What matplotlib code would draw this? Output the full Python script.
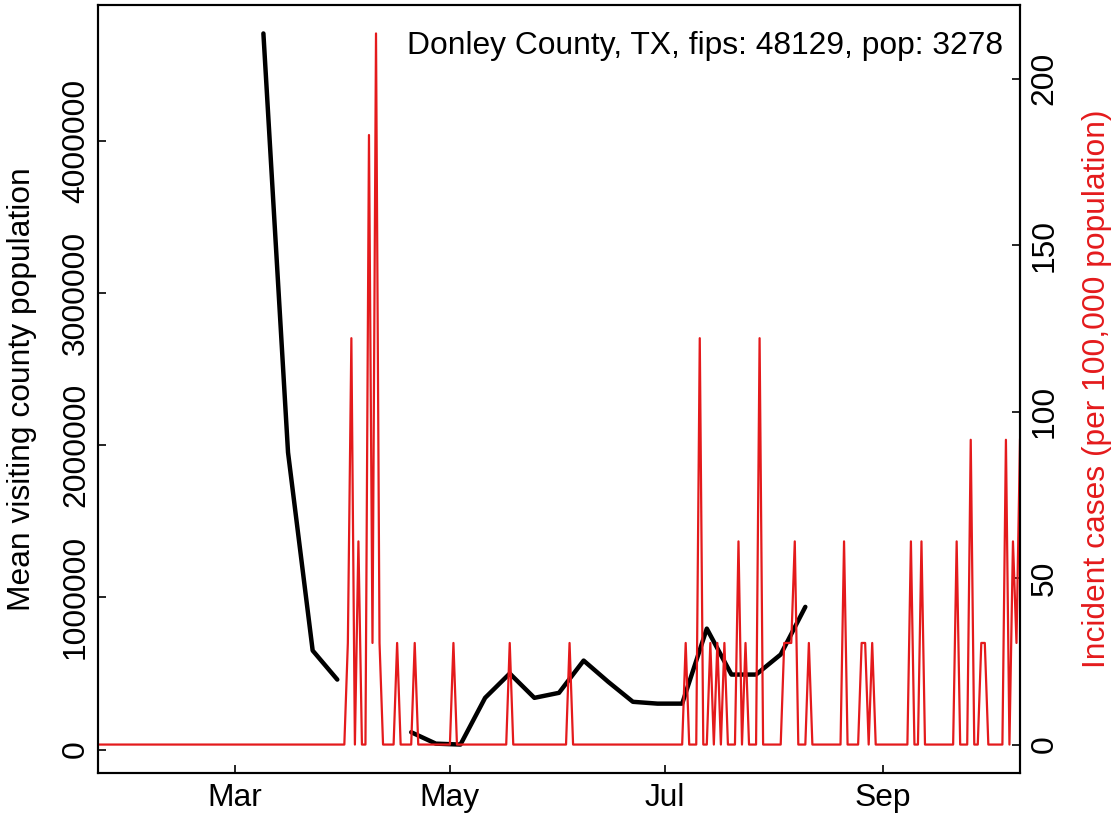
import numpy as np
import pandas as pd
import matplotlib
matplotlib.use("Agg")
import matplotlib.pyplot as plt

plt.rcParams['font.family'] = ['Liberation Sans', 'DejaVu Sans']

# weekly mean visiting county population (black line)
visit_dates = pd.date_range("2020-03-09", "2020-08-10", freq="7D")
visit_vals = [4707000, 1953000, 651000, 460000, np.nan, np.nan, 114000, 39000,
              33000, 340000, 500000, 340000, 373000, 585000, 445000, 314000,
              302000, 302000, 795000, 493000, 493000, 625000, 938000]

# daily incident cases per 100,000 (red line), zero on all other days
case_days = pd.date_range("2020-01-22", "2020-10-10", freq="D")
spike_dates = ["2020-04-02", "2020-04-03", "2020-04-05", "2020-04-08", "2020-04-09",
               "2020-04-10", "2020-04-11", "2020-04-16", "2020-04-21", "2020-05-02",
               "2020-05-18", "2020-06-04", "2020-07-07", "2020-07-11", "2020-07-14",
               "2020-07-16", "2020-07-18", "2020-07-22", "2020-07-24", "2020-07-28",
               "2020-08-04", "2020-08-05", "2020-08-06", "2020-08-07", "2020-08-11",
               "2020-08-21", "2020-08-26", "2020-08-27", "2020-08-29", "2020-09-09",
               "2020-09-12", "2020-09-22", "2020-09-26", "2020-09-29", "2020-09-30",
               "2020-10-06", "2020-10-08", "2020-10-09", "2020-10-10"]
spike_vals = [30.51, 122.03, 61.01, 183.04, 30.51,
              213.54, 30.51, 30.51, 30.51, 30.51,
              30.51, 30.51, 30.51, 122.03, 30.51,
              30.51, 30.51, 61.01, 30.51, 122.03,
              30.51, 30.51, 30.51, 61.01, 30.51,
              61.01, 30.51, 30.51, 30.51, 61.01,
              61.01, 61.01, 91.52, 30.51, 30.51,
              91.52, 61.01, 30.51, 91.52]

month_ticks = pd.to_datetime(["2020-03-01", "2020-05-01", "2020-07-01", "2020-09-01"])
month_labels = ["Mar", "May", "Jul", "Sep"]
left_ticks = [0, 1000000, 2000000, 3000000, 4000000]
right_ticks = [0, 50, 100, 150, 200]
title = "Donley County, TX, fips: 48129, pop: 3278"

cases = pd.Series(0.0, index=case_days)
cases[pd.to_datetime(spike_dates)] = spike_vals

RED = "#E41A1C"
FS = 22.9

fig = plt.figure(figsize=(11.19, 8.22), dpi=100)
ax = fig.add_axes([98 / 1119, 49 / 822, 922 / 1119, 768 / 822])

ax.plot(visit_dates, visit_vals, color="black", lw=3.2, solid_capstyle="round")
lo, hi = np.nanmin(visit_vals), np.nanmax(visit_vals)
ax.set_ylim(lo - 0.04 * (hi - lo), hi + 0.04 * (hi - lo))
ax.set_xlim(case_days[0], case_days[-1])
ax.set_yticks(left_ticks)
ax.set_yticklabels([str(t) for t in left_ticks])
ax.set_xticks(month_ticks)
ax.set_xticklabels(month_labels)
ax.tick_params(direction="in", length=6, width=1.2, labelsize=FS)
ax.tick_params(axis="x", pad=7)
ax.tick_params(axis="y", pad=5)
for lab in ax.get_yticklabels():
    lab.set_rotation(90)
    lab.set_va("center")

ax2 = ax.twinx()
ax2.plot(cases.index, cases.values, color=RED, lw=1.6)
ax2.set_ylim(-0.04 * max(spike_vals), 1.04 * max(spike_vals))
ax2.set_yticks(right_ticks)
ax2.tick_params(direction="in", length=6, width=1.2, labelsize=FS, pad=7)
for lab in ax2.get_yticklabels():
    lab.set_rotation(90)
    lab.set_va("center")
ax2.set_xlim(case_days[0], case_days[-1])

for a in (ax, ax2):
    for s in a.spines.values():
        s.set_linewidth(1.5)

ax.text(0.982, 0.946, title, transform=ax.transAxes, ha="right", va="center", fontsize=FS)
fig.text(22 / 1119, 1 - 389 / 822, "Mean visiting county population", rotation=90,
         ha="center", va="center", fontsize=FS)
fig.text(1097 / 1119, 1 - 389 / 822, "Incident cases (per 100,000 population)", rotation=90,
         ha="center", va="center", fontsize=FS, color=RED)

fig.savefig("out.png", dpi=100)
